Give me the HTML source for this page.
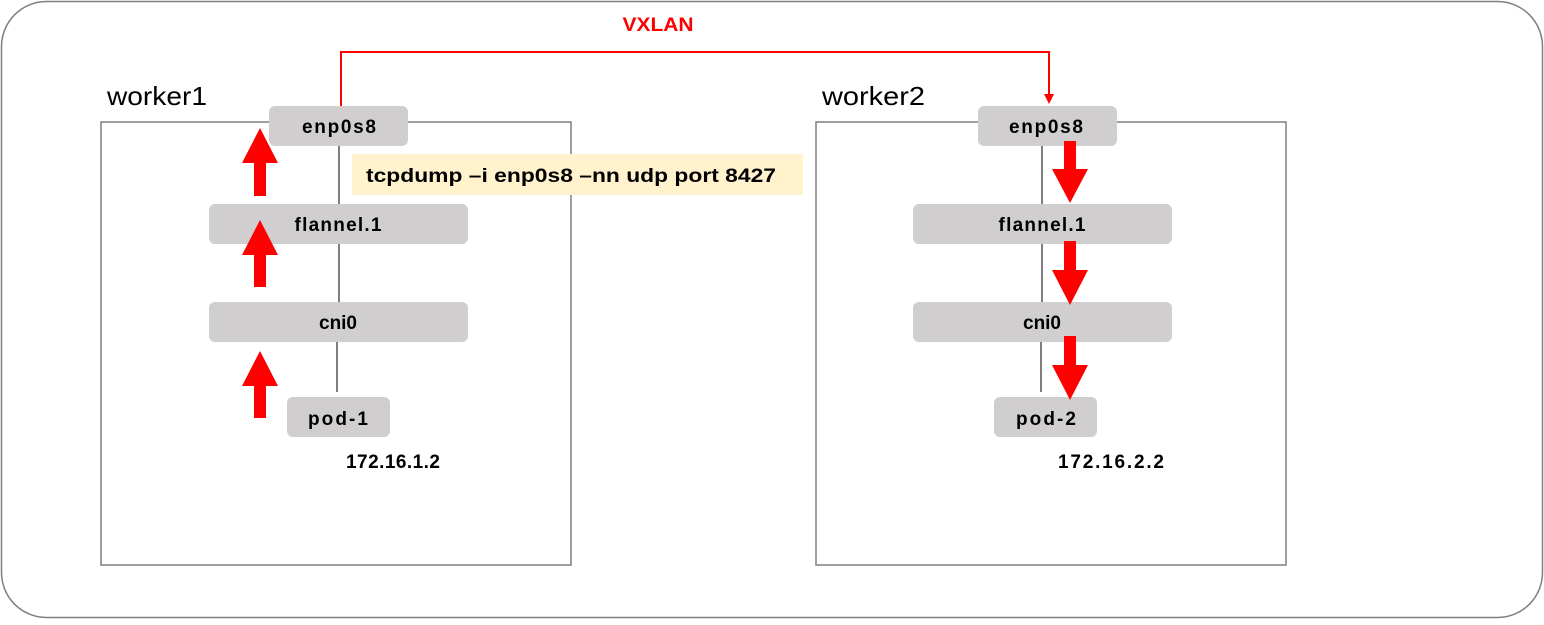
<!DOCTYPE html>
<html><head><meta charset="utf-8"><style>
html,body{margin:0;padding:0;background:#fff;}
svg text{font-family:"Liberation Sans","Noto Sans CJK KR",sans-serif;}
</style></head><body>
<svg width="1544" height="620" viewBox="0 0 1544 620" xmlns="http://www.w3.org/2000/svg">
<rect x="1.5" y="1.5" width="1541" height="616" rx="45" fill="#fff" stroke="#7f7f7f" stroke-width="1.5"/>
<rect x="101" y="122" width="470" height="443" fill="none" stroke="#7f7f7f" stroke-width="1.5"/>
<rect x="816" y="122" width="470" height="443" fill="none" stroke="#7f7f7f" stroke-width="1.5"/>
<text x="107" y="105" font-size="26" fill="#000" textLength="100" lengthAdjust="spacingAndGlyphs">worker1</text>
<text x="822" y="105" font-size="26" fill="#000" textLength="103" lengthAdjust="spacingAndGlyphs">worker2</text>
<g stroke="#7f7f7f" stroke-width="2">
<line x1="339" y1="146" x2="339" y2="204"/><line x1="339" y1="244" x2="339" y2="302"/><line x1="337" y1="342" x2="337" y2="392"/>
<line x1="1042" y1="146" x2="1042" y2="204"/><line x1="1042" y1="244" x2="1042" y2="302"/><line x1="1041" y1="342" x2="1041" y2="392"/>
</g>
<g fill="#d0cece">
<rect x="269" y="106" width="139" height="40" rx="6"/>
<rect x="209" y="204" width="259" height="40" rx="6"/>
<rect x="209" y="302" width="259" height="40" rx="6"/>
<rect x="287" y="397" width="103" height="40" rx="6"/>
<rect x="978" y="106" width="139" height="40" rx="6"/>
<rect x="913" y="204" width="259" height="40" rx="6"/>
<rect x="913" y="302" width="259" height="40" rx="6"/>
<rect x="994" y="397" width="103" height="40" rx="6"/>
</g>
<g font-size="19" font-weight="bold" fill="#000" text-anchor="middle" lengthAdjust="spacingAndGlyphs">
<text x="339" y="133" textLength="74">enp0s8</text>
<text x="338" y="231" textLength="87">flannel.1</text>
<text x="338" y="329" textLength="38">cni0</text>
<text x="338" y="425" textLength="60">pod-1</text>
<text x="1046" y="133" textLength="74">enp0s8</text>
<text x="1042" y="231" textLength="87">flannel.1</text>
<text x="1042" y="329" textLength="38">cni0</text>
<text x="1046" y="425" textLength="60">pod-2</text>
<text x="393" y="468" textLength="94">172.16.1.2</text>
<text x="1111" y="468" textLength="106">172.16.2.2</text>
</g>
<rect x="352" y="154" width="451" height="41" fill="#fff2cc"/>
<text x="366" y="182" font-size="19" font-weight="bold" fill="#000" textLength="410" lengthAdjust="spacingAndGlyphs">tcpdump –i enp0s8 –nn udp port 8427</text>
<polyline points="341,106 341,52 1049,52 1049,96" fill="none" stroke="#f00" stroke-width="2"/>
<polygon points="1044,94 1054,94 1049,104" fill="#f00"/>
<text x="658" y="31" font-size="19" font-weight="bold" fill="#f00" text-anchor="middle" textLength="71" lengthAdjust="spacingAndGlyphs">VXLAN</text>
<g fill="#f00">
<polygon points="254,196 266,196 266,163 278,163 260,128 242,163 254,163"/>
<polygon points="254,287 266,287 266,255 278,255 260,220 242,255 254,255"/>
<polygon points="254,418 266,418 266,386 278,386 260,351 242,386 254,386"/>
<polygon points="1064,141 1076,141 1076,169 1088,169 1070,203 1052,169 1064,169"/>
<polygon points="1064,241 1076,241 1076,270 1088,270 1070,305 1052,270 1064,270"/>
<polygon points="1064,336 1076,336 1076,365 1088,365 1070,400 1052,365 1064,365"/>
</g>
</svg>
</body></html>
